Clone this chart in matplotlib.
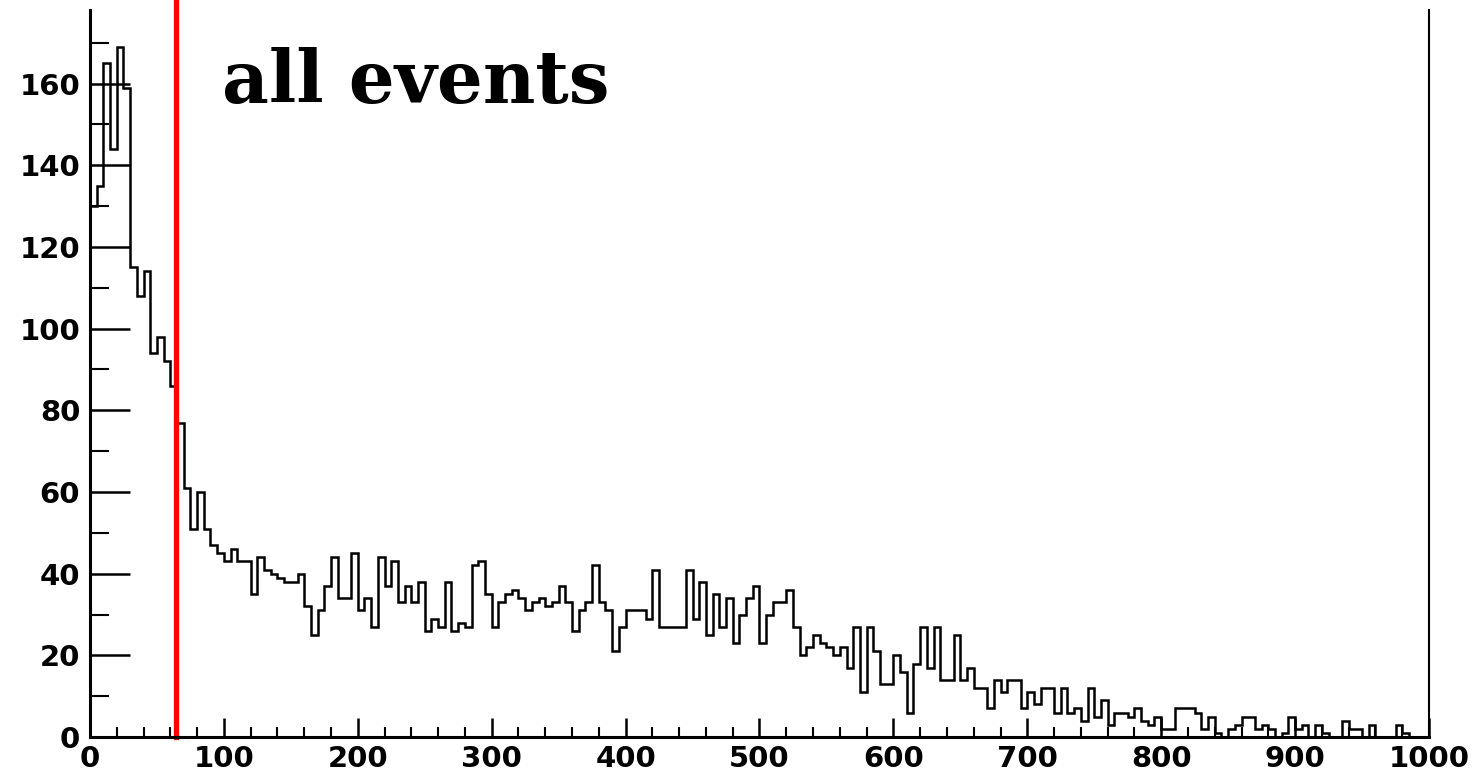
import numpy as np
import matplotlib.pyplot as plt
from matplotlib.ticker import MultipleLocator

# histogram contents, 5-unit bins from 0 to 1000
bin_edges = np.arange(0, 1001, 5)
counts = [
    130, 135, 165, 144, 169, 159, 115, 108, 114, 94,
    98, 92, 86, 77, 61, 51, 60, 51, 47, 45,
    43, 46, 43, 43, 35, 44, 41, 40, 39, 38,
    38, 40, 32, 25, 31, 37, 44, 34, 34, 45,
    31, 34, 27, 44, 37, 43, 33, 37, 33, 38,
    26, 29, 27, 38, 26, 28, 27, 42, 43, 35,
    27, 33, 35, 36, 34, 31, 33, 34, 32, 33,
    37, 33, 26, 31, 33, 42, 33, 31, 21, 27,
    31, 31, 31, 29, 41, 27, 27, 27, 27, 41,
    29, 38, 25, 35, 27, 34, 23, 30, 34, 37,
    23, 30, 33, 33, 36, 27, 20, 22, 25, 23,
    22, 20, 22, 17, 27, 11, 27, 21, 13, 13,
    20, 16, 6, 18, 27, 17, 27, 14, 14, 25,
    14, 17, 12, 12, 7, 14, 11, 14, 14, 7,
    11, 8, 12, 12, 6, 12, 6, 7, 4, 12,
    5, 9, 3, 6, 6, 5, 7, 4, 3, 5,
    2, 2, 7, 7, 7, 6, 2, 5, 1, 0,
    2, 3, 5, 5, 2, 3, 2, 0, 1, 5,
    2, 3, 0, 3, 1, 0, 0, 4, 2, 2,
    0, 3, 0, 0, 0, 3, 1, 0, 0, 0,
]
cut_value = 64
title = "all events"

fig = plt.figure(figsize=(14.77, 7.75), dpi=100)
ax = fig.add_axes([0.0609, 0.049, 0.9066, 0.938])

ax.stairs(counts, bin_edges, color="black", linewidth=1.8)
ax.axvline(cut_value, ymin=0, ymax=1.02, color="red", linewidth=3.8, clip_on=False)

ax.set_xlim(0, 1000)
ax.set_ylim(0, 178)

ax.xaxis.set_major_locator(MultipleLocator(100))
ax.xaxis.set_minor_locator(MultipleLocator(20))
ax.yaxis.set_major_locator(MultipleLocator(20))
ax.yaxis.set_minor_locator(MultipleLocator(10))
ax.set_yticks(range(0, 161, 20))

ax.tick_params(axis="x", which="major", direction="in", length=14, width=1.8,
               labelsize=21, pad=6)
ax.tick_params(axis="x", which="minor", direction="in", length=7, width=1.5)
ax.tick_params(axis="y", which="major", direction="in", length=29, width=1.8,
               labelsize=21, pad=7)
ax.tick_params(axis="y", which="minor", direction="in", length=14, width=1.5)
for lab in ax.get_xticklabels() + ax.get_yticklabels():
    lab.set_fontweight("bold")

ax.spines["top"].set_visible(False)
for s in ["left", "bottom"]:
    ax.spines[s].set_linewidth(2.2)
ax.spines["right"].set_linewidth(1.5)

fig.text(222 / 1477, (775 - 103) / 775, title, family="DejaVu Serif",
         fontweight="bold", fontsize=52, ha="left", va="baseline")

fig.savefig("out.png", dpi=100)
